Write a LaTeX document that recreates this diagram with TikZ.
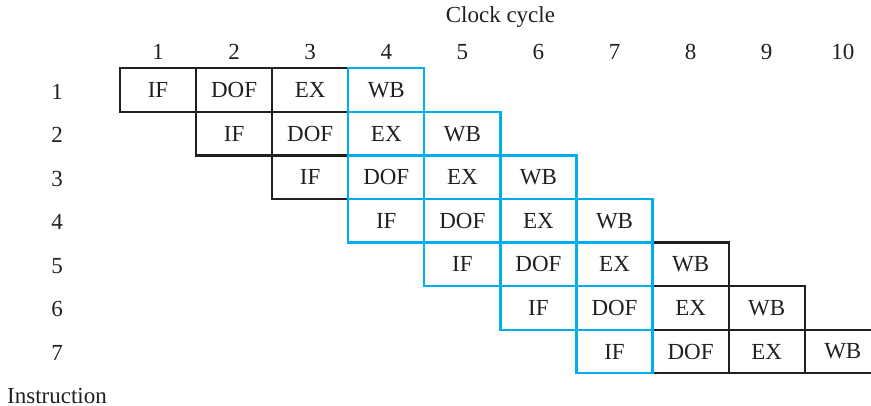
\documentclass[tikz,border=0pt]{standalone}
\usepackage{fontspec}
\setmainfont{Liberation Serif}
\usepackage{xcolor}
\usepackage{tikz}
\usetikzlibrary{positioning}

\definecolor{pipecyan}{RGB}{0,174,239}
\definecolor{pipeblack}{RGB}{35,31,32}

\tikzset{
  stagebox/.style={draw, line width=1.15pt, text=pipeblack, inner sep=0pt,
    minimum width=38.04pt, minimum height=21.785pt}
}

\begin{document}
\begin{tikzpicture}[x=0.5pt, y=-0.5pt, font=\fontsize{11.5}{13}\selectfont, text=pipeblack]

% Geometry parameters
\def\W{76.08}   % cycle width
\def\H{43.57}   % row height
\def\X{120}     % left edge of cycle 1
\def\Y{68.3}    % top edge of instruction 1

% Page frame
\useasboundingbox (0,0) rectangle (871,406);
\clip (0,0) rectangle (871,406);

% Axis titles
\node (clk) at ({\X+5*\W},17) {Clock cycle};
\node (instr) at (57,396) {Instruction};

% Cycle numbers
\foreach \c in {1,...,10}
  \node (cyc\c) at ({\X+(\c-0.5)*\W},52) {\c};

% Instruction numbers
\foreach \r in {1,...,7}
  \node (ins\r) at (57,{\Y+(\r-0.5)*\H+1.5}) {\r};

% Stages outside cycles 4--7 (black)
\foreach \r in {1,...,7}
  \foreach \t [count=\s from 0] in {IF,DOF,EX,WB} {
    \pgfmathtruncatemacro\c{\r+\s}
    \ifnum\c<4
      \node[stagebox, draw=pipeblack] (st\r-\s) at ({\X+(\c-0.5)*\W},{\Y+(\r-0.5)*\H}) {\t};
    \fi
    \ifnum\c>7
      \node[stagebox, draw=pipeblack] (st\r-\s) at ({\X+(\c-0.5)*\W},{\Y+(\r-0.5)*\H}) {\t};
    \fi
  }

% Stages in cycles 4--7 (cyan, on top)
\foreach \r in {1,...,7}
  \foreach \t [count=\s from 0] in {IF,DOF,EX,WB} {
    \pgfmathtruncatemacro\c{\r+\s}
    \ifnum\c>3 \ifnum\c<8
      \node[stagebox, draw=pipecyan] (st\r-\s) at ({\X+(\c-0.5)*\W},{\Y+(\r-0.5)*\H}) {\t};
    \fi\fi
  }

\end{tikzpicture}
\end{document}
